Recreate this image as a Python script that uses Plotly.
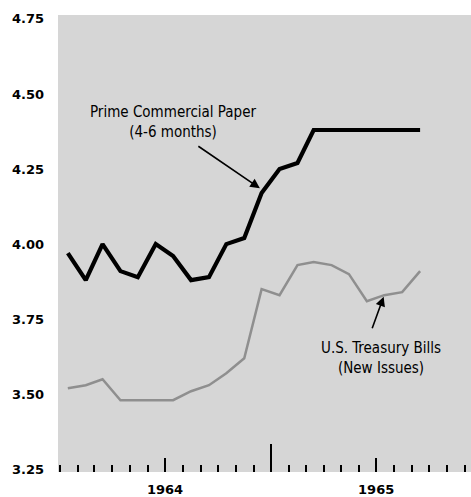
import plotly.graph_objects as go

months = ["1964-01-15", "1964-02-15", "1964-03-15", "1964-04-15", "1964-05-15", "1964-06-15",
          "1964-07-15", "1964-08-15", "1964-09-15", "1964-10-15", "1964-11-15", "1964-12-15",
          "1965-01-15", "1965-02-15", "1965-03-15", "1965-04-15", "1965-05-15", "1965-06-15",
          "1965-07-15", "1965-08-15", "1965-09-15"]

prime_cp = [3.97, 3.88, 4.00, 3.91, 3.89, 4.00, 3.96, 3.88, 3.89, 4.00, 4.02, 4.17,
            4.25, 4.27, 4.38, 4.38, 4.38, 4.38, 4.38, 4.38, 4.38]

tbills = [3.52, 3.53, 3.55, 3.48, 3.48, 3.48, 3.48, 3.51, 3.53, 3.57, 3.62, 3.85,
          3.83, 3.93, 3.94, 3.93, 3.90, 3.81, 3.83, 3.84, 3.91]

y_ticks = [3.25, 3.50, 3.75, 4.00, 4.25, 4.50, 4.75]
year_tick_dates = ["1964-07-01", "1965-07-01"]
year_labels = ["1964", "1965"]
year_boundary = ["1965-01-01"]

x_range = ["1963-12-29", "1965-12-12"]
y_range = [3.241, 4.763]

fig = go.Figure()
fig.add_trace(go.Scatter(x=months, y=tbills, mode="lines",
                         line=dict(color="#8f8f8f", width=2.5),
                         xaxis="x2", showlegend=False, hoverinfo="skip"))
fig.add_trace(go.Scatter(x=months, y=prime_cp, mode="lines",
                         line=dict(color="black", width=4.2),
                         showlegend=False, hoverinfo="skip"))

label_font = dict(family="DejaVu Sans Condensed, Liberation Sans Narrow, sans-serif",
                  size=15, color="black")

fig.add_annotation(x="1964-07-14", y=4.405, xref="x", yref="y",
                   text="Prime Commercial Paper<br>(4-6 months)",
                   showarrow=False, font=label_font, align="center")
fig.add_annotation(x="1965-07-10", y=3.62, xref="x", yref="y",
                   text="U.S. Treasury Bills<br>(New Issues)",
                   showarrow=False, font=label_font, align="center")
fig.add_annotation(x="1964-12-12", y=4.186, xref="x", yref="y", text="",
                   showarrow=True, arrowhead=2, arrowsize=1.2, arrowwidth=1.6,
                   arrowcolor="black", ax=-63, ay=-43, standoff=0)
fig.add_annotation(x="1965-07-14", y=3.825, xref="x", yref="y", text="",
                   showarrow=True, arrowhead=2, arrowsize=1.2, arrowwidth=1.6,
                   arrowcolor="black", ax=-12, ay=33, standoff=0)

tick_font = dict(family="DejaVu Sans, sans-serif", size=13, color="black", weight="bold")

fig.update_layout(
    width=471, height=497,
    margin=dict(l=58, r=0, t=15, b=25),
    paper_bgcolor="white",
    plot_bgcolor="#d6d6d6",
    xaxis=dict(type="date", range=x_range, showgrid=False, zeroline=False, showline=False,
               automargin=False,
               tickmode="array", tickvals=year_tick_dates, ticktext=year_labels,
               ticks="inside", ticklen=14, tickwidth=2, tickcolor="black",
               tickfont=tick_font, ticklabelstandoff=8,
               minor=dict(ticks="inside", ticklen=7, tickwidth=2, tickcolor="black",
                          dtick="M1", tick0="1964-01-01", showgrid=False)),
    xaxis2=dict(type="date", range=x_range, overlaying="x", anchor="y", side="bottom",
                matches="x", showgrid=False, zeroline=False, showline=False,
                automargin=False,
                tickmode="array", tickvals=year_boundary, ticks="inside", ticklen=28,
                tickwidth=2, tickcolor="black", showticklabels=False),
    yaxis=dict(range=y_range, showgrid=False, zeroline=False, showline=False,
               automargin=False,
               tickmode="array", tickvals=y_ticks, tickformat=".2f", ticks="",
               tickfont=tick_font, ticklabelstandoff=13),
)

fig.write_html("out.html", config={"displayModeBar": False},
               post_script="document.body.style.margin='0';")
